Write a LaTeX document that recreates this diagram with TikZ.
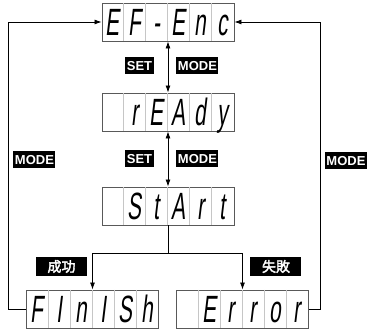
\documentclass[tikz,border=0pt]{standalone}
\usepackage{fontspec}
\setmainfont{Liberation Sans}
\newfontfamily\segfont{Liberation Sans}[FakeStretch=0.55, FakeSlant=0.12]
\newfontfamily\cjk{Noto Sans CJK JP}[AutoFakeBold=2.5]
\usetikzlibrary{arrows.meta, calc, positioning}

\tikzset{
  display/.style={draw=gray!70!black, line width=0.9pt, minimum width=132pt,
    minimum height=38pt, inner sep=0pt},
  cell/.style={font=\segfont\fontsize{38}{38}\selectfont, text height=27pt,
    text depth=0pt, inner sep=0pt, anchor=center},
  tag/.style={fill=black, text=white, font=\bfseries\fontsize{13}{13}\selectfont,
    inner xsep=1.5pt, inner ysep=0pt, text height=9.5pt, text depth=0pt, minimum height=17pt},
  cjktag/.style={fill=black, text=white, font=\cjk\bfseries\fontsize{14}{14}\selectfont,
    minimum width=51pt, minimum height=19pt, inner sep=0pt},
  flow/.style={-{Latex[length=7pt,width=5pt]}, line width=0.8pt},
  dflow/.style={{Latex[length=7pt,width=5pt]}-{Latex[length=7pt,width=5pt]}, line width=0.8pt},
}

% Anzeige mit 6 Stellen: Name, x, y, Zeichen
\newcommand{\segdisp}[4]{%
  \node[display] (#1) at (#2,#3) {};
  \foreach \c [count=\i] in {#4} {
    \node[cell] at ($(#1.west)+(\i*22-11,0)$) {\c};
  }
  \foreach \k in {1,...,5} {
    \draw[gray!45, line width=0.6pt] ($(#1.north west)+(\k*22,0)$) -- ($(#1.south west)+(\k*22,0)$);
  }
}

\begin{document}
\begin{tikzpicture}[x=1pt, y=-1pt]
  \useasboundingbox (0,0) rectangle (368,329);

  % Anzeigen
  \segdisp{enc}{168}{22}{E,F,-,E,n,c}
  \segdisp{ready}{168}{112}{{},r,E,A,d,y}
  \segdisp{start}{168}{206}{{},S,t,A,r,t}
  \segdisp{finish}{92.5}{309}{F,I,n,I,S,h}
  \segdisp{error}{242.5}{309}{{},E,r,r,o,r}

  % Tasten
  \node[tag] (set1) at (139.5,66) {SET};
  \node[tag] (mode1) at (197.5,66) {MODE};
  \node[tag] (set2) at (139.5,159) {SET};
  \node[tag] (mode2) at (197.5,159) {MODE};
  \node[tag] (model) at (34.5,159.5) {MODE};
  \node[tag] (moder) at (346,160.5) {MODE};
  \node[cjktag] (ok) at (61.5,266.5) {成功};
  \node[cjktag] (ng) at (276,266.5) {失敗};

  % Verbindungen
  \draw[dflow] (enc.south) -- (ready.north);
  \draw[dflow] (ready.south) -- (start.north);
  \coordinate (split) at ($(start.south)+(0,28)$);
  \draw[line width=0.8pt] (start.south) -- (split);
  \draw[flow] (split) -| (finish.north);
  \draw[flow] (split) -| (error.north);
  \draw[flow] (finish.west) -- ++(-18,0) |- (enc.west);
  \draw[flow] (error.east) -- ++(11,0) |- (enc.east);
\end{tikzpicture}
\end{document}
